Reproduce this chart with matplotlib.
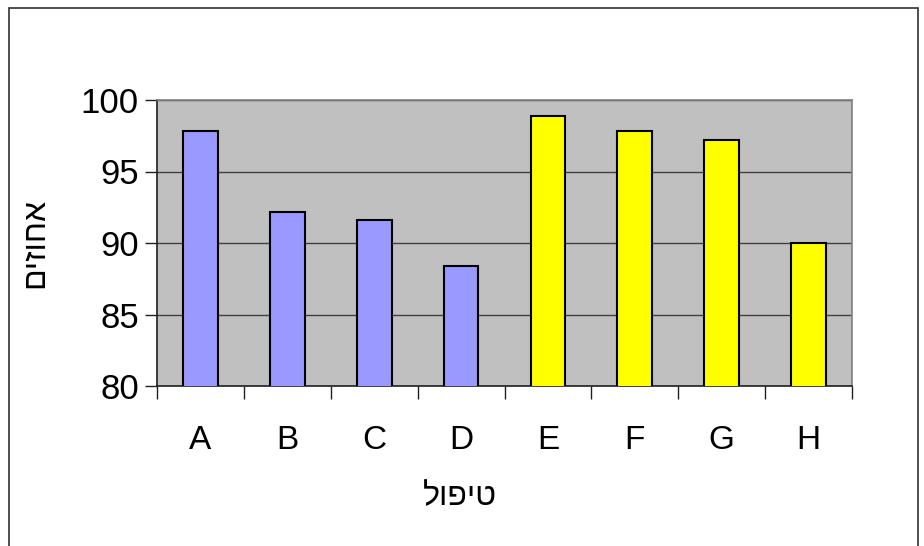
import matplotlib
matplotlib.use("Agg")
import matplotlib.pyplot as plt
from matplotlib.patches import Rectangle

categories = ["A", "B", "C", "D", "E", "F", "G", "H"]
values = [97.8, 92.2, 91.6, 88.4, 98.9, 97.8, 97.2, 90.0]
colors = ["#9999FF"] * 4 + ["#FFFF00"] * 4
y_ticks = [80, 85, 90, 95, 100]
x_label = "טיפול"
y_label = "אחוזים"

def visual(s):
    return s[::-1]

plt.rcParams['font.family'] = ['Liberation Sans', 'DejaVu Sans']

fig = plt.figure(figsize=(9.24, 5.46), dpi=100)
fig.patches.append(Rectangle((9/924, -0.05), (918-9)/924, 1.05 - 8/546,
                             transform=fig.transFigure, fill=False,
                             edgecolor="#303030", linewidth=1.2))
ax = fig.add_axes([157/924, 1-386/546, (852-157)/924, (386-100)/546])
ax.set_facecolor("#C0C0C0")
x = range(len(categories))
ax.bar(x, values, width=0.4, color=colors, edgecolor="black", linewidth=1.5, zorder=3)
ax.set_ylim(80, 100)
ax.set_xlim(-0.5, len(categories) - 0.5)
ax.set_yticks(y_ticks)
ax.set_yticklabels([str(v) for v in y_ticks], fontsize=25)
ax.set_xticks(list(x))
ax.set_xticklabels(categories, fontsize=24)
ax.tick_params(axis='x', length=0, pad=28)
ax.set_xticks([i - 0.5 for i in range(len(categories) + 1)], minor=True)
ax.tick_params(axis='x', which='minor', length=9, width=1, color="#202020")
ax.tick_params(axis='y', length=9, width=1, color="#202020", pad=4)
ax.yaxis.grid(True, color="#404040", linewidth=1, zorder=1)
ax.set_axisbelow(True)
for s in ["top", "right"]:
    ax.spines[s].set_color("#808080")
    ax.spines[s].set_linewidth(1.2)
for s in ["left", "bottom"]:
    ax.spines[s].set_color("#202020")
    ax.spines[s].set_linewidth(1.2)

fig.text(460/924, 1-497/546, visual(x_label), fontsize=23, ha="center", va="center")
fig.text(35/924, 1-243/546, visual(y_label), fontsize=23, ha="center", va="center", rotation=90)

fig.savefig("out.png", dpi=100)
